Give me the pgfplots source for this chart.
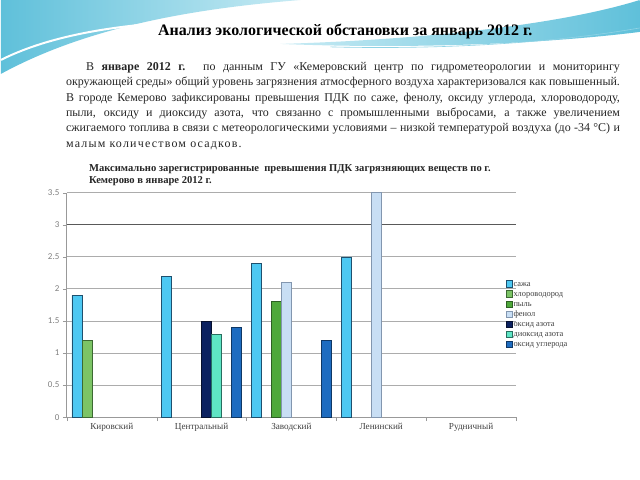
\documentclass[border=0pt]{standalone}
\usepackage{fontspec}
\setmainfont{Liberation Serif}
\newfontfamily\tickfont{Carlito}
\usepackage{pgfplots}
\pgfplotsset{compat=1.18}
\definecolor{cSaja}{RGB}{77,200,242}
\definecolor{cSajaD}{RGB}{30,80,110}
\definecolor{cHlor}{RGB}{124,196,102}
\definecolor{cHlorD}{RGB}{60,105,50}
\definecolor{cPyl}{RGB}{78,168,58}
\definecolor{cPylD}{RGB}{45,95,35}
\definecolor{cFenol}{RGB}{200,222,244}
\definecolor{cFenolD}{RGB}{130,150,175}
\definecolor{cNO}{RGB}{11,33,96}
\definecolor{cNOD}{RGB}{5,15,45}
\definecolor{cNO2}{RGB}{94,228,196}
\definecolor{cNO2D}{RGB}{40,110,95}
\definecolor{cCO}{RGB}{30,108,192}
\definecolor{cCOD}{RGB}{15,55,100}
\definecolor{wave}{RGB}{95,192,218}
\definecolor{waveL}{RGB}{200,235,244}
\begin{document}
\begin{tikzpicture}
\path[fill=white] (0,0) rectangle (640pt,-480pt);
% background waves
\shade[left color=wave, right color=waveL] (0,0) -- (300pt,0) .. controls (200pt,-8pt) and (90pt,-25pt) .. (0,-74pt) -- cycle;
\draw[white, line width=2pt] (0,-60pt) .. controls (60pt,-30pt) and (150pt,-18pt) .. (280pt,-20pt);
\shade[left color=waveL, right color=wave] (280pt,-44pt) .. controls (420pt,-40pt) and (560pt,-25pt) .. (640pt,0pt) -- (640pt,-32pt) .. controls (560pt,-42pt) and (430pt,-50pt) .. (280pt,-44pt) -- cycle;
\draw[wave!70, line width=0.6pt] (330pt,-47pt) .. controls (450pt,-50pt) and (560pt,-42pt) .. (640pt,-28pt);
% title
\node[font=\bfseries\fontsize{16}{18}\selectfont] at (345pt,-32pt) {Анализ экологической обстановки за январь 2012 г.};
% paragraph
\node[anchor=north west, text width=555pt, inner sep=0pt, align=justify, text=black!85,
      font=\fontsize{12}{15.4}\selectfont] at (65pt,-62pt)
 {\hspace*{20pt}В \textbf{январе 2012 г.} по данным ГУ «Кемеровский центр по гидрометеорологии и мониторингу\linebreak
 окружающей среды» общий уровень загрязнения атмосферного воздуха характеризовался как повышенный.\linebreak
 В городе Кемерово зафиксированы превышения ПДК по саже, фенолу, оксиду углерода, хлороводороду,\linebreak
 пыли, оксиду и диоксиду азота, что связанно с промышленными выбросами, а также увеличением\linebreak
 сжигаемого топлива в связи с метеорологическими условиями – низкой температурой воздуха (до -34 °С) и\linebreak
 {\addfontfeatures{LetterSpace=10}малым количеством осадков.}};
% chart title
\node[anchor=north west, inner sep=0pt, align=left, font=\bfseries\fontsize{10.6}{11.5}\selectfont, text=black!85]
  at (88pt,-165pt) {Максимально зарегистрированные \ превышения ПДК загрязняющих веществ по г.\\Кемерово в январе 2012 г.};
\begin{axis}[
  at={(66pt,-418pt)}, anchor=south west,
  scale only axis, width=450pt, height=225pt,
  xmin=-0.5, xmax=4.5, ymin=0, ymax=3.5,
  axis x line*=bottom, axis y line*=left,
  axis line style={gray!80, line width=0.8pt},
  tick align=outside,
  xtick={0,1,2,3,4},
  xticklabels={Кировский,Центральный,Заводский,Ленинский,Рудничный},
  major x tick style={draw=none},
  minor xtick={-0.5,0.5,1.5,2.5,3.5,4.5},
  minor x tick style={gray!80},
  minor tick length=4pt,
  ytick={0,0.5,1,1.5,2,2.5,3,3.5},
  yticklabels={0,0.5,1,1.5,2,2.5,3,3.5},
  major tick length=4pt,
  y tick style={gray!80},
  ymajorgrids,
  major grid style={gray!65, line width=0.8pt},
  extra y ticks={3},
  extra y tick labels={},
  extra y tick style={grid=major, major grid style={black!65, line width=1.3pt}},
  xticklabel style={font=\fontsize{9.2}{10}\selectfont, text=black!75, yshift=1pt},
  yticklabel style={font=\tickfont\fontsize{9}{10}\selectfont, text=gray},
  legend style={at={(0.971,0.625)}, anchor=north west, draw=none, fill=none,
     font=\fontsize{8.4}{9}\selectfont, text=black!75, row sep=0pt,
     nodes={inner sep=1pt, anchor=west, text height=6.2pt, text depth=1.9pt}},
  legend cell align=left,
  legend image code/.code={\draw[#1, bar width=0pt, bar shift=0pt] (0pt,-3pt) rectangle (6pt,3.5pt);},
  clip=false,
]
\addplot[ybar, bar width=10pt, bar shift=-35pt, fill=cSaja, draw=cSajaD] coordinates {(0,1.9) (1,2.2) (2,2.4) (3,2.5)};
\addlegendentry{сажа}
\addplot[ybar, bar width=10pt, bar shift=-25pt, fill=cHlor, draw=cHlorD] coordinates {(0,1.2)};
\addlegendentry{хлороводород}
\addplot[ybar, bar width=10pt, bar shift=-15pt, fill=cPyl, draw=cPylD] coordinates {(2,1.8)};
\addlegendentry{пыль}
\addplot[ybar, bar width=10pt, bar shift=-5pt, fill=cFenol, draw=cFenolD] coordinates {(2,2.1) (3,3.5)};
\addlegendentry{фенол}
\addplot[ybar, bar width=10pt, bar shift=5pt, fill=cNO, draw=cNOD] coordinates {(1,1.5)};
\addlegendentry{оксид азота}
\addplot[ybar, bar width=10pt, bar shift=15pt, fill=cNO2, draw=cNO2D] coordinates {(1,1.3)};
\addlegendentry{диоксид азота}
\addplot[ybar, bar width=10pt, bar shift=35pt, fill=cCO, draw=cCOD] coordinates {(1,1.4) (2,1.2)};
\addlegendentry{оксид углерода}
\end{axis}
\end{tikzpicture}
\end{document}
